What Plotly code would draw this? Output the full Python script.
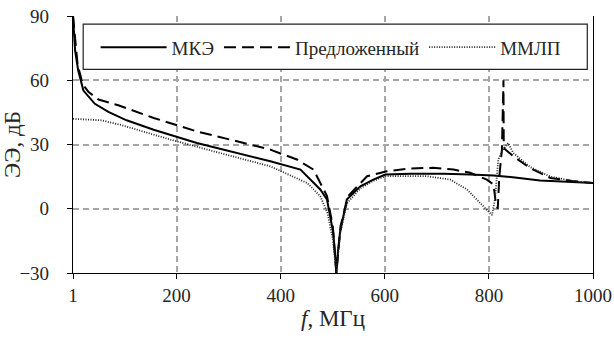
import plotly.graph_objects as go

# ---- data ----
f_mke = [1, 2, 5, 11, 21, 43, 69, 104, 156, 239, 316, 380, 438, 476, 489, 501, 504, 507, 510, 514, 527, 553, 578, 601, 649, 713, 764, 809, 850, 898, 950, 1000]
v_mke = [90, 86, 74, 64.5, 55.2, 49, 45.2, 41.3, 36.9, 30.7, 26.1, 22.2, 18.3, 9, 4.3, -11.2, -20, -30, -20, -11, 4.3, 10.5, 13.6, 16, 16.4, 16.4, 16, 15.5, 14.6, 13.2, 12.6, 12]

f_pred = [1, 3, 10, 20, 31, 50, 88, 156, 239, 316, 380, 431, 463, 489, 500, 507, 515, 530, 553, 566, 604, 649, 693, 732, 764, 796, 809, 813, 817, 820, 825, 828, 828.5, 830, 835, 847, 879, 918, 960, 1000]
v_pred = [90, 84, 67, 58, 54.5, 51, 48.3, 42.4, 36.1, 31.5, 27.6, 23, 18.3, 5.9, -8, -30, -8, 6, 12, 15.2, 17.5, 18.8, 19.1, 18.3, 16.8, 13.6, 11.3, 3, 0, 15, 27.6, 60, 30, 28, 27, 24.5, 19, 14.4, 13, 12]

f_mmlp = [1, 20, 56, 95, 188, 284, 380, 451, 476, 490, 500, 507, 514, 527, 553, 578, 601, 681, 726, 758, 783, 795, 802, 806, 812, 818, 828, 837, 847, 879, 918, 960, 1000]
v_mmlp = [42, 41.8, 41.3, 39, 32.3, 26, 19.8, 12, 5.9, -2, -14, -30, -12, 2.5, 9.5, 13, 15.2, 15.2, 13.6, 9, 2.8, 0, -1.9, -3, 5, 23, 28, 30.7, 26, 19.5, 15, 13, 12]

names = ["МКЭ", "Предложенный", "ММЛП"]
x_ticks = [1, 200, 400, 600, 800, 1000]
y_ticks = [-30, 0, 30, 60, 90]

FONT = "Liberation Serif, Times New Roman, serif"
TXT = "#262626"

fig = go.Figure()
fig.add_trace(go.Scatter(x=f_mke, y=v_mke, name=names[0], mode="lines",
                         line=dict(color="black", width=2, dash="solid")))
fig.add_trace(go.Scatter(x=f_pred, y=v_pred, name=names[1], mode="lines",
                         line=dict(color="black", width=2, dash="12px,6px")))
fig.add_trace(go.Scatter(x=f_mmlp, y=v_mmlp, name=names[2], mode="lines",
                         line=dict(color="#222222", width=1.8, dash="1px,1.5px")))

# legend frame (decorative)
fig.add_shape(type="rect", xref="paper", yref="paper",
              x0=0.0196, x1=0.989, y0=0.792, y1=0.968,
              line=dict(color="#222", width=1.2), fillcolor="white", layer="above")

fig.update_layout(
    width=614, height=340,
    margin=dict(l=72.5, r=21, t=15.7, b=66.7),
    paper_bgcolor="white", plot_bgcolor="white",
    font=dict(family=FONT, size=19, color=TXT),
    showlegend=True,
    legend=dict(orientation="h", x=0.0435, y=0.878, xanchor="left", yanchor="middle",
                borderwidth=0, bgcolor="rgba(0,0,0,0)",
                font=dict(family=FONT, size=19, color=TXT), itemwidth=66),
    xaxis=dict(range=[1, 1000], tickvals=x_ticks, ticktext=[str(t) for t in x_ticks],
               showgrid=True, gridcolor="#a6a6a6", griddash="6px,4px", gridwidth=1.5,
               showline=True, linecolor="black", linewidth=1.2, mirror=False,
               ticks="outside", ticklen=5, tickcolor="black", zeroline=False,
               automargin=False, ticklabeloverflow="allow",
               title=dict(text="<i>f</i>, МГц", standoff=4)),
    yaxis=dict(range=[-30, 90], tickvals=y_ticks,
               showgrid=True, gridcolor="#a6a6a6", griddash="6px,4px", gridwidth=1.5,
               showline=True, linecolor="black", linewidth=1.2, mirror=True,
               ticks="outside", ticklen=5, tickcolor="black", zeroline=False,
               ticklabelstandoff=14, automargin=False, ticklabeloverflow="allow",
               title=dict(text="ЭЭ, дБ", standoff=2)),
)

# remove the default 8px page margin so the 614x340 figure fills the window
fig.write_html("out.html", config={"displayModeBar": False},
               post_script="document.body.style.margin='0';")
